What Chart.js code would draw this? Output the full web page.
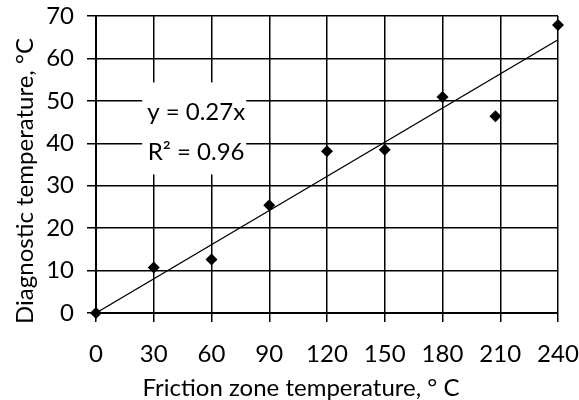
<!DOCTYPE html>
<html>
<head>
<meta charset="utf-8">
<script src="https://cdn.jsdelivr.net/npm/chart.js@4.4.0/dist/chart.umd.min.js"></script>
<style>
  html, body { margin: 0; padding: 0; background: #fff; }
  #wrap { width: 579px; height: 400px; }
</style>
</head>
<body>
<div id="wrap"><canvas id="c" width="579" height="400"></canvas></div>
<script>
// Data
const frictionTemp = [0, 30, 60, 90, 120, 150, 180, 207.5, 240];
const diagnosticTemp = [0, 10.7, 12.6, 25.4, 38.1, 38.5, 50.9, 46.4, 67.9];
const trendX = [0, 240];
const trendY = [0, 64.4];
const xTicks = [0, 30, 60, 90, 120, 150, 180, 210, 240];
const yTicks = [0, 10, 20, 30, 40, 50, 60, 70];
const equationLines = ['y = 0.27x', 'R\u00B2 = 0.96'];
const equationAnchor = { x: 51, y: 43.5 };
const xTitle = 'Friction zone temperature, \u00B0 C';
const yTitle = 'Diagnostic temperature, \u00B0C';

const FONT = 'Lato, Carlito, Calibri, sans-serif';
const FS = 24;

const scatterPoints = frictionTemp.map((x, i) => ({ x: x, y: diagnosticTemp[i] }));
const trendPoints = trendX.map((x, i) => ({ x: x, y: trendY[i] }));

function zeroPad(s) {
  s.paddingTop = 0; s.paddingBottom = 0; s.paddingLeft = 0; s.paddingRight = 0;
}

const extras = {
  id: 'extras',
  beforeDatasetsDraw(chart) {
    const ctx = chart.ctx;
    const xs = chart.scales.x, ys = chart.scales.y;
    const cx = xs.getPixelForValue(equationAnchor.x);
    const cy = ys.getPixelForValue(equationAnchor.y);
    ctx.save();
    ctx.fillStyle = '#fff';
    ctx.fillRect(cx - 52, cy - 46, 104, 92);
    ctx.fillStyle = '#000';
    ctx.font = FS + 'px ' + FONT;
    ctx.textAlign = 'center';
    ctx.textBaseline = 'middle';
    ctx.fillText(equationLines[0], cx + 2, cy - 16);
    ctx.fillText(equationLines[1], cx + 2, cy + 24);
    ctx.restore();
  },
  afterDraw(chart) {
    const ctx = chart.ctx;
    ctx.save();
    ctx.fillStyle = '#000';
    ctx.font = FS + 'px ' + FONT;
    ctx.textAlign = 'center';
    ctx.textBaseline = 'middle';
    ctx.fillText(xTitle, 301, 388);
    ctx.translate(25, 181);
    ctx.rotate(-Math.PI / 2);
    ctx.fillText(yTitle, 0, 0);
    ctx.restore();
  }
};

new Chart(document.getElementById('c'), {
  type: 'scatter',
  data: {
    datasets: [
      {
        label: 'Measured',
        data: scatterPoints,
        pointStyle: 'rectRot',
        pointRadius: 6,
        pointHoverRadius: 6,
        backgroundColor: '#000',
        borderColor: '#000',
        borderWidth: 0,
        showLine: false,
        clip: false,
        order: 1
      },
      {
        label: 'Trend',
        data: trendPoints,
        showLine: true,
        borderColor: '#000',
        borderWidth: 1.4,
        pointRadius: 0,
        fill: false,
        clip: false,
        order: 2
      }
    ]
  },
  options: {
    responsive: false,
    animation: false,
    layout: { padding: { top: 16, right: 21, left: 0, bottom: 0 } },
    plugins: { legend: { display: false }, tooltip: { enabled: false } },
    scales: {
      x: {
        type: 'linear',
        min: 0, max: 240,
        afterBuildTicks(s) { s.ticks = xTicks.map(v => ({ value: v })); },
        afterFit(s) { s.height = 87; zeroPad(s); },
        grid: { color: '#000', lineWidth: 1.5, tickLength: 9, drawTicks: true },
        border: { color: '#000', width: 2 },
        ticks: { color: '#000', font: { family: FONT, size: FS }, padding: 18, maxRotation: 0, autoSkip: false }
      },
      y: {
        type: 'linear',
        min: 0, max: 70,
        afterBuildTicks(s) { s.ticks = yTicks.map(v => ({ value: v })); },
        afterFit(s) { s.width = 96; zeroPad(s); },
        grid: { color: '#000', lineWidth: 1.5, tickLength: 9, drawTicks: true },
        border: { color: '#000', width: 2 },
        ticks: { color: '#000', font: { family: FONT, size: FS }, padding: 13 }
      }
    }
  },
  plugins: [extras]
});
</script>
</body>
</html>
